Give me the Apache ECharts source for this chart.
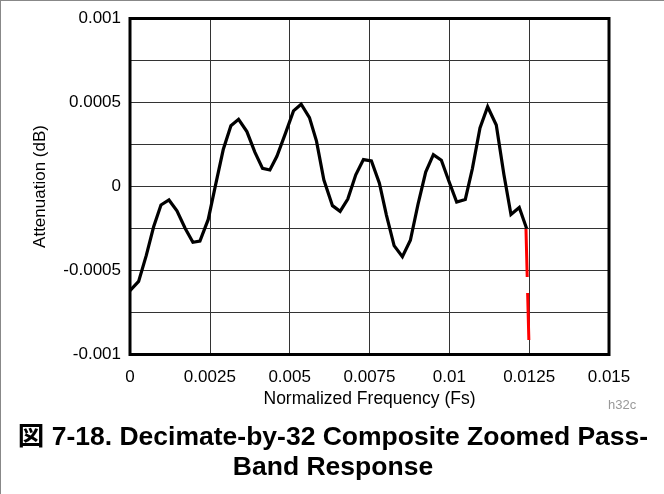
<!DOCTYPE html>
<html>
<head>
<meta charset="utf-8">
<script src="https://cdn.jsdelivr.net/npm/echarts@6/dist/echarts.min.js"></script>
<style>
html,body{margin:0;padding:0;background:#fff;}
#c{width:664px;height:494px;box-sizing:border-box;border-left:1px solid #888;border-top:1px solid #888;}
</style>
</head>
<body>
<div id="c"></div>
<script>
// Normalized frequency (Fs)
var freq = [0, 0.00027, 0.00051, 0.00074, 0.00097, 0.00122, 0.00147, 0.00173, 0.00197, 0.00219,
  0.00245, 0.00268, 0.00292, 0.00316, 0.0034, 0.00366, 0.00391, 0.00415, 0.00438, 0.0046,
  0.00487, 0.00512, 0.00536, 0.00562, 0.00584, 0.00607, 0.00634, 0.00658, 0.00682, 0.00707,
  0.00731, 0.00756, 0.00781, 0.00803, 0.00827, 0.00853, 0.00878, 0.00902, 0.00926, 0.0095,
  0.00975, 0.00999, 0.01023, 0.0105, 0.01072, 0.01096, 0.0112, 0.01147, 0.01171, 0.01193,
  0.01219, 0.01242];
// Attenuation (dB)
var atten = [-0.00062, -0.000565, -0.00041, -0.00024, -0.00011, -0.00008, -0.000145, -0.00025, -0.000332, -0.000325,
  -0.000196, 0.00001, 0.00022, 0.000362, 0.0004, 0.000327, 0.000205, 0.000108, 0.000098, 0.00018,
  0.000318, 0.00045, 0.00049, 0.00041, 0.00027, 0.00004, -0.000114, -0.000148, -0.000075, 0.00007,
  0.00016, 0.000152, 0.00002, -0.00017, -0.000352, -0.000418, -0.00032, -0.000105, 0.000086, 0.00019,
  0.000156, 0.00003, -0.000093, -0.000077, 0.000105, 0.000348, 0.000475, 0.000366, 0.00007, -0.000167,
  -0.000125, -0.00025];
// Red dashed marker line
var markerFreq = [0.0124, 0.01249];
var markerAtten = [-0.000253, -0.000914];

var xTicks = [0, 0.0025, 0.005, 0.0075, 0.01, 0.0125, 0.015];
var xTickLabels = ['0', '0.0025', '0.005', '0.0075', '0.01', '0.0125', '0.015'];
var yTicks = [-0.001, -0.0005, 0, 0.0005, 0.001];
var yTickLabels = ['-0.001', '-0.0005', '0', '0.0005', '0.001'];

function lookup(ticks, labels) {
  return function (v) {
    for (var i = 0; i < ticks.length; i++) {
      if (Math.abs(ticks[i] - v) < 1e-9) return labels[i];
    }
    return '';
  };
}

var mainData = freq.map(function (f, i) { return [f, atten[i]]; });
var markerData = markerFreq.map(function (f, i) { return [f, markerAtten[i]]; });

var font = '"Liberation Sans", Arial, Helvetica, sans-serif';
var chart = echarts.init(document.getElementById('c'), null, {renderer: 'canvas'});
chart.setOption({
  animation: false,
  backgroundColor: '#fff',
  grid: {left: 129, right: 55, top: 17.5, bottom: 139.5, show: true, borderColor: '#000', borderWidth: 3, backgroundColor: 'transparent', z: 3},
  title: {
    text: '図 7-18. Decimate-by-32 Composite Zoomed Pass-\nBand Response',
    left: 332, top: 422, textAlign: 'center', padding: 0,
    textStyle: {fontFamily: '"Liberation Sans", "Noto Sans CJK JP", sans-serif', fontWeight: 'bold', fontSize: 26.5, lineHeight: 30, color: '#000'}
  },
  graphic: [{
    type: 'text', left: 607, top: 398,
    style: {text: 'h32c', font: '13px ' + font, fill: '#999'}
  }],
  xAxis: {
    type: 'value', min: 0, max: 0.015, interval: 0.0025,
    name: 'Normalized Frequency (Fs)', nameLocation: 'middle', nameGap: 31,
    nameTextStyle: {fontFamily: font, fontSize: 17.5, color: '#000'},
    axisLine: {show: false}, axisTick: {show: false},
    axisLabel: {margin: 14, fontFamily: font, fontSize: 17, color: '#000', formatter: lookup(xTicks, xTickLabels)},
    splitLine: {show: true, lineStyle: {color: '#333', width: 1}}
  },
  yAxis: {
    type: 'value', min: -0.001, max: 0.001, interval: 0.00025,
    name: 'Attenuation (dB)', nameLocation: 'middle', nameGap: 81, nameRotate: 90,
    nameTextStyle: {fontFamily: font, fontSize: 17, color: '#000'},
    axisLine: {show: false}, axisTick: {show: false},
    axisLabel: {margin: 9, fontFamily: font, fontSize: 17, color: '#000', formatter: lookup(yTicks, yTickLabels)},
    splitLine: {show: true, lineStyle: {color: '#333', width: 1}}
  },
  series: [{
    type: 'line', data: mainData, showSymbol: false, symbol: 'none', z: 5,
    lineStyle: {color: '#000', width: 3.2, join: 'miter'}
  }, {
    type: 'line', data: markerData, showSymbol: false, symbol: 'none', z: 5,
    lineStyle: {color: '#ff0000', width: 3, type: [48, 16]}
  }]
});
</script>
</body>
</html>
